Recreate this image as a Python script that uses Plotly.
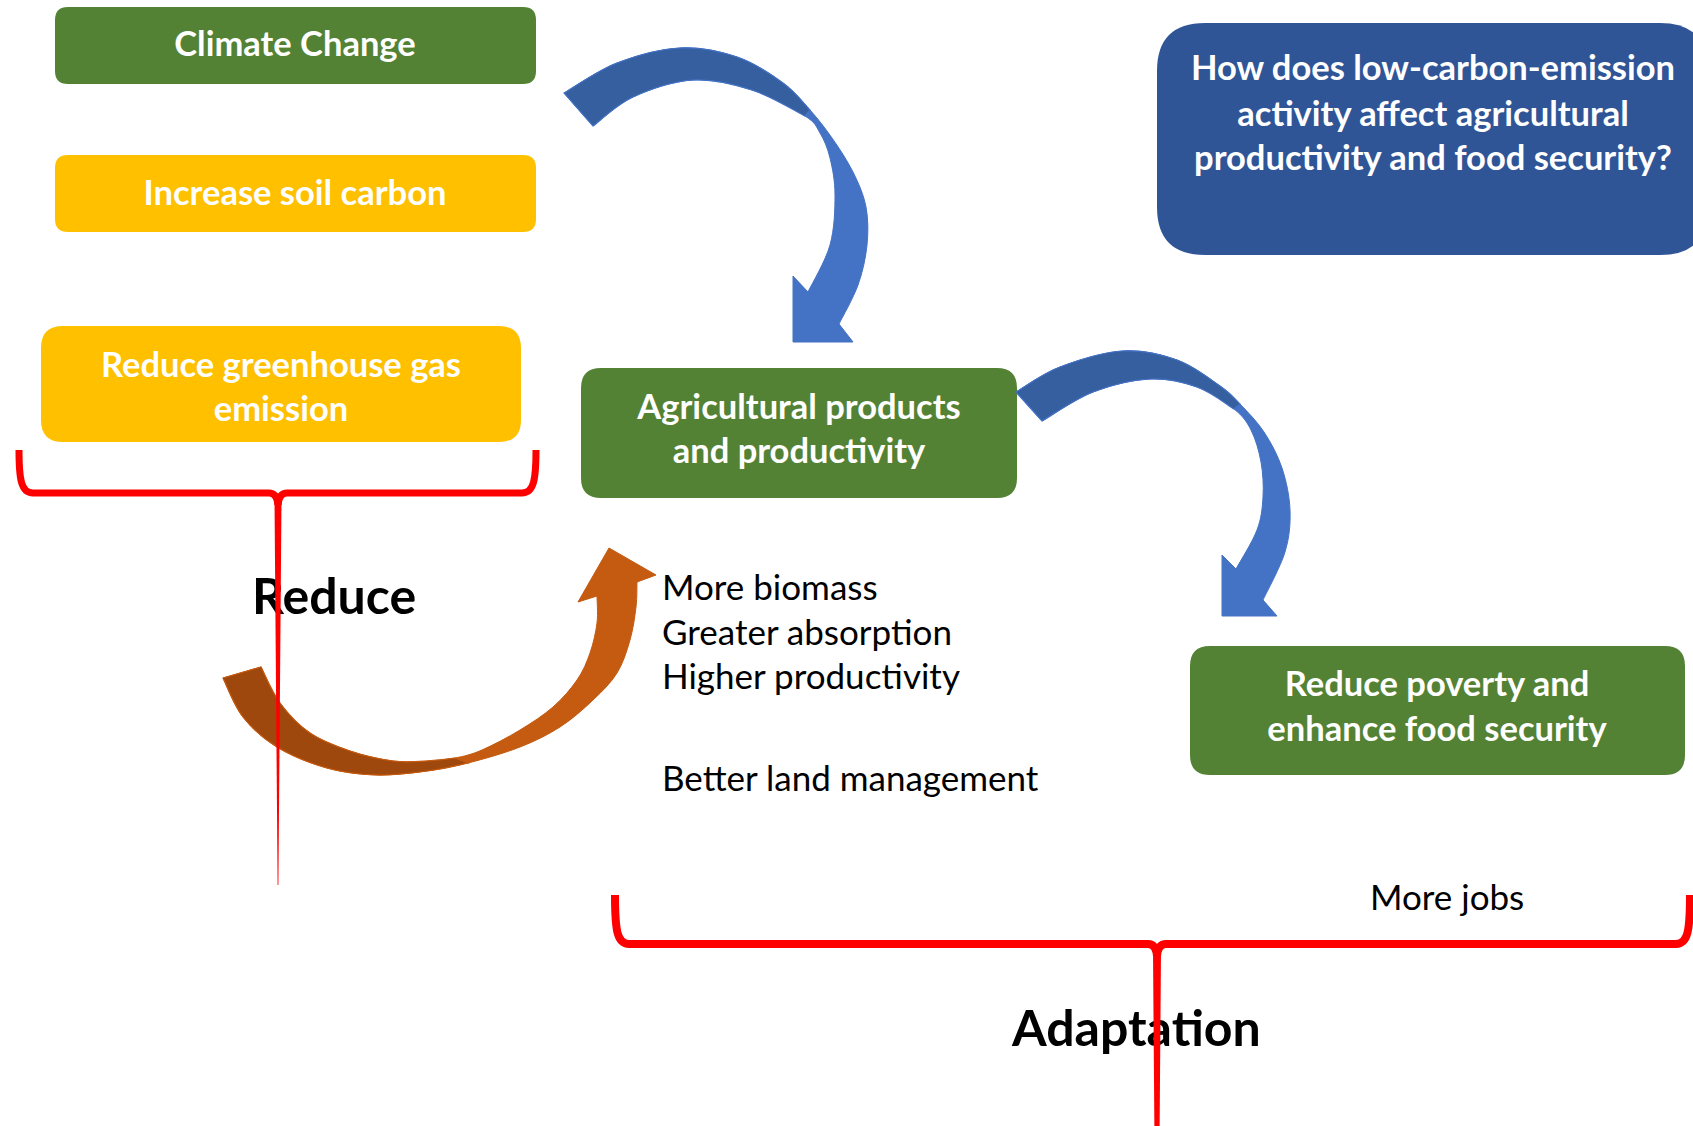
import plotly.graph_objects as go

W, H = 1693, 1126

# ---------------- text content ----------------
climate_lines = ["Climate Change"]
soil_lines = ["Increase soil carbon"]
ghg_lines = ["Reduce greenhouse gas", "emission"]
agri_lines = ["Agricultural products", "and productivity"]
question_lines = ["How does low-carbon-emission", "activity affect agricultural",
                  "productivity and food security?"]
poverty_lines = ["Reduce poverty and", "enhance food security"]
benefit_lines = ["More biomass", "Greater absorption", "Higher productivity",
                 "Better land management"]
jobs_label = ["More jobs"]
brace_labels = ["Reduce", "Adaptation"]

GREEN = "#548235"
YELLOW = "#FFC000"
NAVY = "#2F5597"
BLUE = "#4472C4"
BLUE_D = "#365F9F"
ORANGE = "#C55A11"
ORANGE_D = "#9E480E"
RED = "#FF0000"
FONT = "Lato"

fig = go.Figure()
shapes = []


def rrect(x0, y0, x1, y1, r):
    return (f"M{x0+r},{y0} L{x1-r},{y0} Q{x1},{y0} {x1},{y0+r} L{x1},{y1-r} "
            f"Q{x1},{y1} {x1-r},{y1} L{x0+r},{y1} Q{x0},{y1} {x0},{y1-r} "
            f"L{x0},{y0+r} Q{x0},{y0} {x0+r},{y0} Z")


def smooth(pts):
    segs = []
    n = len(pts)
    for i in range(n - 1):
        p0 = pts[i - 1] if i > 0 else pts[i]
        p1 = pts[i]
        p2 = pts[i + 1]
        p3 = pts[i + 2] if i + 2 < n else pts[i + 1]
        c1 = (p1[0] + (p2[0] - p0[0]) / 6, p1[1] + (p2[1] - p0[1]) / 6)
        c2 = (p2[0] - (p3[0] - p1[0]) / 6, p2[1] - (p3[1] - p1[1]) / 6)
        segs.append(f"C{c1[0]:.1f},{c1[1]:.1f} {c2[0]:.1f},{c2[1]:.1f} {p2[0]:.1f},{p2[1]:.1f}")
    return " ".join(segs)


def add_box(x0, y0, x1, y1, r, color):
    shapes.append(dict(type="path", path=rrect(x0, y0, x1, y1, r), fillcolor=color,
                       line=dict(width=0), layer="below", xref="x", yref="y"))


# boxes
add_box(55, 7, 536, 84, 13, GREEN)
add_box(55, 155, 536, 232, 13, YELLOW)
add_box(41, 326, 521, 442, 22, YELLOW)
add_box(581, 368, 1017, 498, 20, GREEN)
add_box(1157, 23, 1708, 255, 48, NAVY)
add_box(1190, 646, 1685, 775, 20, GREEN)


def add_arrow(outer, head, inner, dark_outer, dark_inner, light, dark):
    p = f"M{outer[0][0]},{outer[0][1]} " + smooth(outer)
    for pt in head:
        p += f" L{pt[0]},{pt[1]}"
    p += " " + smooth(inner) + " Z"
    shapes.append(dict(type="path", path=p, fillcolor=light,
                       line=dict(width=1, color=light), layer="below", xref="x", yref="y"))
    q = f"M{dark_outer[0][0]},{dark_outer[0][1]} " + smooth(dark_outer)
    q += f" L{dark_inner[0][0]},{dark_inner[0][1]} " + smooth(dark_inner) + " Z"
    shapes.append(dict(type="path", path=q, fillcolor=dark,
                       line=dict(width=1.2, color=light), layer="below", xref="x", yref="y"))


# blue arrow 1
a1_outer = [(564, 93), (617, 63), (680, 48), (737, 57), (783, 83), (810, 110), (832, 138),
            (853, 172), (866, 207), (867, 245), (858, 285), (839, 324)]
a1_head = [(853, 342), (793, 342), (793, 276), (808, 292)]
a1_inner = [(808, 292), (830, 245), (835, 195), (830, 158), (820, 133), (805, 116),
            (752, 90), (693, 80), (633, 97), (593, 126)]
add_arrow(a1_outer, a1_head, a1_inner, a1_outer[:6], a1_inner[5:], BLUE, BLUE_D)

# blue arrow 2
a2_outer = [(1016, 392), (1060, 367), (1123, 351), (1177, 360), (1220, 386), (1240, 404),
            (1264, 432), (1282, 468), (1290, 510), (1285, 552), (1263, 600)]
a2_head = [(1277, 616), (1222, 616), (1222, 555), (1236, 569)]
a2_inner = [(1236, 569), (1257, 530), (1263, 497), (1261, 462), (1251, 430), (1234, 409),
            (1197, 387), (1150, 379), (1093, 392), (1042, 421)]
add_arrow(a2_outer, a2_head, a2_inner, a2_outer[:6], a2_inner[5:], BLUE, BLUE_D)

# orange arrow
o_outer = [(223, 678), (243, 717), (277, 747), (327, 768), (377, 775), (427, 771), (468, 763),
           (520, 747), (560, 727), (593, 700), (617, 673), (630, 640), (636, 607), (637, 582)]
o_head = [(656, 575), (609, 548), (578, 602), (597, 596)]
o_inner = [(597, 596), (597, 623), (590, 653), (577, 680), (553, 707), (520, 730), (482, 750),
           (455, 758), (427, 761), (393, 761), (350, 751), (310, 733), (280, 703), (261, 667)]
add_arrow(o_outer, o_head, o_inner, o_outer[:7], o_inner[7:], ORANGE, ORANGE_D)


def add_brace(xl, xr, yt, ym, cx, yb, w, wb):
    left = (f"M{xl},{yt} C{xl},{ym-14} {xl+2},{ym} {xl+14},{ym} L{cx-9},{ym} "
            f"Q{cx-1},{ym} {cx},{ym+12}")
    right = (f"M{xr},{yt} C{xr},{ym-14} {xr-2},{ym} {xr-14},{ym} L{cx+9},{ym} "
             f"Q{cx+1},{ym} {cx},{ym+12}")
    for p in (left, right):
        shapes.append(dict(type="path", path=p, line=dict(color=RED, width=w),
                           layer="above", xref="x", yref="y"))
    stem = (f"M{cx-w/2},{ym+6} L{cx+w/2},{ym+6} L{cx+wb/2},{yb} L{cx-wb/2},{yb} Z")
    shapes.append(dict(type="path", path=stem, fillcolor=RED, line=dict(width=0),
                       layer="above", xref="x", yref="y"))


add_brace(19, 536, 450, 493, 278, 885, 7, 0.8)
add_brace(615, 1690, 895, 944, 1157, 1400, 8, 1.0)


def add_text(xs, ys, texts, size, color, bold, pos):
    fig.add_trace(go.Scatter(
        x=xs, y=ys, text=texts, mode="text", textposition=pos, hoverinfo="skip",
        textfont=dict(family=FONT, size=size, color=color,
                      weight="bold" if bold else "normal"),
        showlegend=False))


BOX = 34.5
PLAIN = 35
BIG = 50
add_text([295], [47], climate_lines, BOX, "white", True, "middle center")
add_text([295], [196], soil_lines, BOX, "white", True, "middle center")
add_text([281, 281], [368, 412], ghg_lines, BOX, "white", True, "middle center")
add_text([799, 799], [410, 454], agri_lines, BOX, "white", True, "middle center")
add_text([1433] * 3, [71, 117, 161], question_lines, BOX, "white", True, "middle center")
add_text([1437, 1437], [687, 732], poverty_lines, BOX, "white", True, "middle center")
add_text([662] * 4, [591, 636, 680, 782], benefit_lines, PLAIN, "black", False, "middle right")
add_text([1370], [901], jobs_label, PLAIN, "black", False, "middle right")
add_text([252, 1012], [601, 1033], brace_labels, BIG, "black", True, "middle right")

fig.update_layout(
    width=W, height=H, margin=dict(l=0, r=0, t=0, b=0),
    paper_bgcolor="white", plot_bgcolor="white",
    xaxis=dict(range=[0, W], visible=False, fixedrange=True),
    yaxis=dict(range=[H, 0], visible=False, fixedrange=True),
    shapes=shapes, showlegend=False,
)

fig.write_html("out.html", config={"displayModeBar": False},
               post_script="document.body.style.margin='0';")
